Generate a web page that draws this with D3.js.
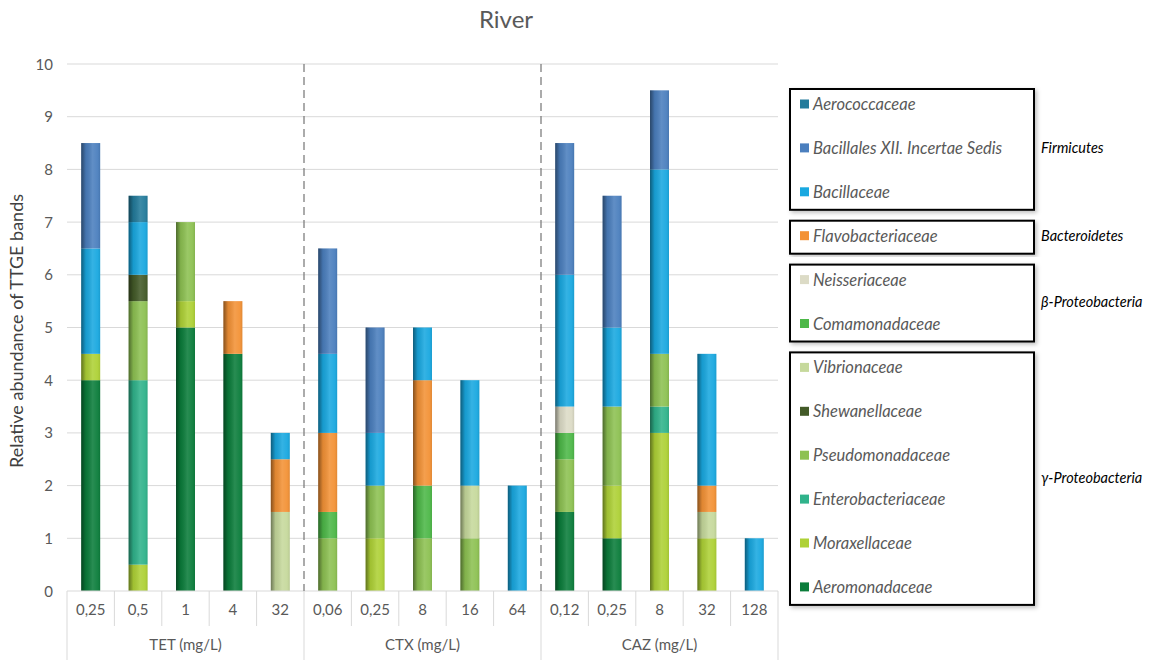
<!DOCTYPE html>
<html><head><meta charset="utf-8">
<script src="https://cdn.jsdelivr.net/npm/d3@7"></script>
<style>body{margin:0;background:#fff}svg{display:block}text{font-family:Lato,"Open Sans",sans-serif}</style>
</head><body>
<svg id="c" width="1164" height="662"></svg>
<script>
const categories = ["0,25","0,5","1","4","32","0,06","0,25","8","16","64","0,12","0,25","8","32","128"];
const groups = ["TET (mg/L)","CTX (mg/L)","CAZ (mg/L)"];
const groupSize = 5;
const families = ["Aeromonadaceae","Moraxellaceae","Enterobacteriaceae","Pseudomonadaceae","Shewanellaceae","Vibrionaceae","Comamonadaceae","Neisseriaceae","Flavobacteriaceae","Bacillaceae","Bacillales XII. Incertae Sedis","Aerococcaceae"];
const colors = ["#0b7d3b","#aed136","#30b38b","#8dc152","#435a28","#c6d99c","#4db848","#dcdbc6","#f39236","#19a8e0","#4b7fbe","#237b9b"];
const aeromonadaceae     = [4,0,5,4.5,0, 0,0,0,0,0, 1.5,1,0,0,0];
const moraxellaceae      = [0.5,0.5,0.5,0,0, 0,1,0,0,0, 0,1,3,1,0];
const enterobacteriaceae = [0,3.5,0,0,0, 0,0,0,0,0, 0,0,0.5,0,0];
const pseudomonadaceae   = [0,1.5,1.5,0,0, 1,1,1,1,0, 1,1.5,1,0,0];
const shewanellaceae     = [0,0.5,0,0,0, 0,0,0,0,0, 0,0,0,0,0];
const vibrionaceae       = [0,0,0,0,1.5, 0,0,0,1,0, 0,0,0,0.5,0];
const comamonadaceae     = [0,0,0,0,0, 0.5,0,1,0,0, 0.5,0,0,0,0];
const neisseriaceae      = [0,0,0,0,0, 0,0,0,0,0, 0.5,0,0,0,0];
const flavobacteriaceae  = [0,0,0,1,1, 1.5,0,2,0,0, 0,0,0,0.5,0];
const bacillaceae        = [2,1,0,0,0.5, 1.5,1,1,2,2, 2.5,1.5,3.5,2.5,1];
const bacillalesXII      = [2,0,0,0,0, 2,2,0,0,0, 2.5,2.5,1.5,0,0];
const aerococcaceae      = [0,0.5,0,0,0, 0,0,0,0,0, 0,0,0,0,0];
const series = [aeromonadaceae,moraxellaceae,enterobacteriaceae,pseudomonadaceae,shewanellaceae,vibrionaceae,comamonadaceae,neisseriaceae,flavobacteriaceae,bacillaceae,bacillalesXII,aerococcaceae];
const yTicks = [0,1,2,3,4,5,6,7,8,9,10];
const phyla = [
  {name:"Firmicutes", members:["Aerococcaceae","Bacillales XII. Incertae Sedis","Bacillaceae"]},
  {name:"Bacteroidetes", members:["Flavobacteriaceae"]},
  {name:"β-Proteobacteria", members:["Neisseriaceae","Comamonadaceae"]},
  {name:"γ-Proteobacteria", members:["Vibrionaceae","Shewanellaceae","Pseudomonadaceae","Enterobacteriaceae","Moraxellaceae","Aeromonadaceae"]}
];

const svg = d3.select("#c");
const L = 67, R = 778, T = 64, B = 591;
const keys = categories.map((c,i)=>i);
const x = d3.scaleBand().domain(keys).range([L,R]).paddingInner(0.6).paddingOuter(0.3);
const y = d3.scaleLinear().domain([0,10]).range([B,T]);
const bw = (R-L)/categories.length;

// title
svg.append("text").attr("x",506).attr("y",28).attr("text-anchor","middle")
  .attr("font-size",24).attr("fill","#595959").text("River");

// gridlines
svg.append("g").selectAll("line").data(yTicks.filter(d=>d>0)).join("line")
  .attr("x1",L).attr("x2",R).attr("y1",d=>y(d)).attr("y2",d=>y(d))
  .attr("stroke","#d9d9d9").attr("stroke-width",1);

// y axis labels
svg.append("g").selectAll("text").data(yTicks).join("text")
  .attr("x",53).attr("y",d=>y(d)+5.5).attr("text-anchor","end")
  .attr("font-size",15).attr("fill","#595959").text(d=>d);

svg.append("text").attr("transform",`translate(23,331) rotate(-90)`)
  .attr("text-anchor","middle").attr("font-size",18).attr("fill","#404040")
  .text("Relative abundance of TTGE bands");

// gradient
const defs = svg.append("defs");
const g = defs.append("linearGradient").attr("id","shade").attr("x1","0").attr("x2","1").attr("y1","0").attr("y2","0");
[[0,"#000",0.45],[0.25,"#000",0.08],[0.6,"#fff",0.12],[0.85,"#fff",0.05],[1,"#000",0.08]].forEach(s=>
  g.append("stop").attr("offset",s[0]).attr("stop-color",s[1]).attr("stop-opacity",s[2]));
const sh = defs.append("filter").attr("id","sh").attr("x","-5%").attr("y","-5%").attr("width","115%").attr("height","115%");
sh.append("feDropShadow").attr("dx",2).attr("dy",2).attr("stdDeviation",2).attr("flood-color","#000").attr("flood-opacity",0.25);

// stack
const rows = keys.map(i=>{const o={i}; families.forEach((f,k)=>o[f]=series[k][i]); return o;});
const stacked = d3.stack().keys(families)(rows);
const segs = [];
stacked.forEach((layer,k)=>layer.forEach(d=>{ if(d[1]-d[0]>0) segs.push({k, i:d.data.i, y0:d[0], y1:d[1]}); }));
const bars = svg.append("g");
bars.selectAll("rect.seg").data(segs).join("rect").attr("class","seg")
  .attr("x",d=>x(d.i)).attr("width",x.bandwidth())
  .attr("y",d=>y(d.y1)).attr("height",d=>y(d.y0)-y(d.y1))
  .attr("fill",d=>colors[d.k]);
bars.selectAll("rect.sh").data(segs).join("rect").attr("class","sh")
  .attr("x",d=>x(d.i)).attr("width",x.bandwidth())
  .attr("y",d=>y(d.y1)).attr("height",d=>y(d.y0)-y(d.y1))
  .attr("fill","url(#shade)");

// x axis
svg.append("line").attr("x1",L).attr("x2",R).attr("y1",B).attr("y2",B).attr("stroke","#d9d9d9");
const bounds = d3.range(categories.length+1);
svg.append("g").selectAll("line").data(bounds).join("line")
  .attr("x1",d=>L+d*bw).attr("x2",d=>L+d*bw).attr("y1",B)
  .attr("y2",d=>d%groupSize===0?660:626).attr("stroke","#d9d9d9");
svg.append("g").selectAll("text").data(keys).join("text")
  .attr("x",d=>x(d)+x.bandwidth()/2).attr("y",615).attr("text-anchor","middle")
  .attr("font-size",15).attr("fill","#595959").text(d=>categories[d]);
svg.append("g").selectAll("text").data(groups).join("text")
  .attr("x",(d,i)=>L+(i+0.5)*groupSize*bw).attr("y",650).attr("text-anchor","middle")
  .attr("font-size",15).attr("fill","#595959").text(d=>d);
// dashed separators
svg.append("g").selectAll("line").data(d3.range(1,groups.length)).join("line")
  .attr("x1",d=>L+d*groupSize*bw).attr("x2",d=>L+d*groupSize*bw)
  .attr("y1",T).attr("y2",B).attr("stroke","#7f7f7f").attr("stroke-width",1.3).attr("stroke-dasharray","8,5");

// legend
const lx = 790, lw = 244, rowH = 43.9, firstY = 104;
const lg = svg.append("g");
let idx = 0;
phyla.forEach(p=>{
  const start = idx, n = p.members.length;
  const top = firstY + start*rowH - 15, bot = firstY + (start+n-1)*rowH + 18;
  lg.append("rect").attr("x",lx).attr("y",top).attr("width",lw).attr("height",bot-top)
    .attr("fill","#fff").attr("stroke","#000").attr("stroke-width",2).attr("filter","url(#sh)");
  p.members.forEach((m,j)=>{
    const yy = firstY + (start+j)*rowH;
    const k = families.indexOf(m);
    lg.append("rect").attr("x",800).attr("y",yy-4.5).attr("width",9).attr("height",9).attr("fill",colors[k]);
    lg.append("text").attr("x",813).attr("y",yy+6).attr("font-size",16.5).attr("font-style","italic")
      .attr("fill","#595959").text(m);
  });
  lg.append("text").attr("x",1041).attr("y",(top+bot)/2+4).attr("font-size",14.5)
    .attr("font-style","italic").attr("fill","#000").text(p.name);
  idx += n;
});
</script>
</body></html>
